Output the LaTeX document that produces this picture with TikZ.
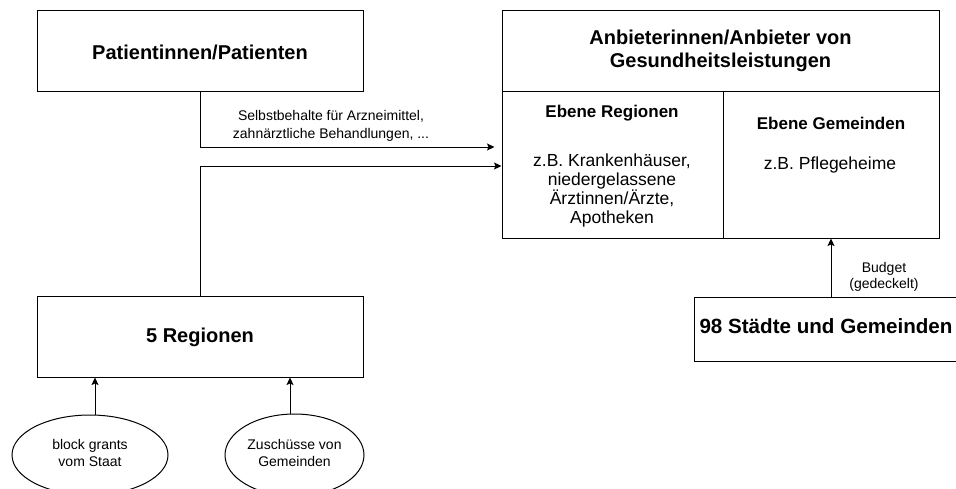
\documentclass[tikz,border=0pt]{standalone}
\usepackage{fontspec}
\setmainfont{Liberation Sans}
\usetikzlibrary{arrows.meta,shapes.geometric}

\tikzset{
  box/.style={draw=black, line width=1pt, rectangle, inner sep=0pt},
  oval/.style={draw=black, line width=1pt, ellipse, inner sep=0pt},
  title/.style={font=\fontsize{20}{23}\selectfont\bfseries, align=center, inner sep=0pt},
  head/.style={font=\fontsize{17}{20}\selectfont\bfseries, align=center, inner sep=0pt},
  body/.style={font=\fontsize{17.5}{19}\selectfont, align=center, inner sep=0pt},
  small/.style={font=\fontsize{14}{18}\selectfont, align=center, inner sep=0pt},
  arr/.style={line width=1pt, -{Stealth[length=7.5pt,width=7pt,inset=1.5pt]}},
}

\begin{document}
\begin{tikzpicture}[x=1pt, y=-1pt]
  \clip (0,0) rectangle (956,488);

  % patients
  \node[box, minimum width=326pt, minimum height=81pt] (pat) at (200,50.5) {};
  \node[title] (patT) at (200,52) {Patientinnen/Patienten};

  % providers of health services
  \node[box, minimum width=437pt, minimum height=81pt] (anb) at (720.5,50.5) {};
  \node[title] (anbT) at (720.5,51) {Anbieterinnen/Anbieter von\\Gesundheitsleistungen};
  \node[box, minimum width=221pt, minimum height=147pt] (cellR) at (612.5,164.5) {};
  \node[box, minimum width=216pt, minimum height=147pt] (cellG) at (831,164.5) {};
  \node[head] (erT) at (612,113) {Ebene Regionen};
  \node[body] (erB) at (612,190) {z.B. Krankenhäuser,\\niedergelassene\\Ärztinnen/Ärzte,\\Apotheken};
  \node[head] (egT) at (831,123) {Ebene Gemeinden};
  \node[body] (egB) at (830,165) {z.B. Pflegeheime};

  % regions and municipalities
  \node[box, minimum width=326pt, minimum height=81pt] (reg) at (200,336.5) {};
  \node[title] (regT) at (200,337) {5 Regionen};
  \node[box, minimum width=274pt, minimum height=64pt] (sg) at (831,329) {};
  \node[title, font=\fontsize{20.6}{23}\selectfont\bfseries] (sgT) at (826,326) {98 Städte und Gemeinden};

  % funding sources of the regions
  \node[oval, minimum width=156pt, minimum height=80pt] (e1) at (90,455) {};
  \node[small, font=\fontsize{14}{16.5}\selectfont] (e1T) at (90,453) {block grants\\vom Staat};
  \node[oval, minimum width=139pt, minimum height=82pt] (e2) at (294.5,455) {};
  \node[small, font=\fontsize{14}{16.5}\selectfont] (e2T) at (294.5,453) {Zuschüsse von\\Gemeinden};

  % flow levels
  \coordinate (lvlA) at (0,147);
  \coordinate (lvlB) at (0,166);

  % connectors
  \draw[arr] (pat.south) |- ([xshift=-7pt]cellR.west |- lvlA);
  \node[small] (sblT) at (331,126) {Selbstbehalte für Arzneimittel,\\zahnärztliche Behandlungen, ...};
  \draw[arr] (reg.north) |- (cellR.west |- lvlB);
  \draw[arr] (sg.north) -- (sg.north |- cellG.south);
  \node[small, font=\fontsize{14}{15.5}\selectfont] (budT) at (884,277) {Budget\\(gedeckelt)};
  \draw[arr] ([xshift=5pt]e1.north) -- ([xshift=5pt]e1.north |- reg.south);
  \draw[arr] ([xshift=-4.5pt]e2.north) -- ([xshift=-4.5pt]e2.north |- reg.south);
\end{tikzpicture}
\end{document}
